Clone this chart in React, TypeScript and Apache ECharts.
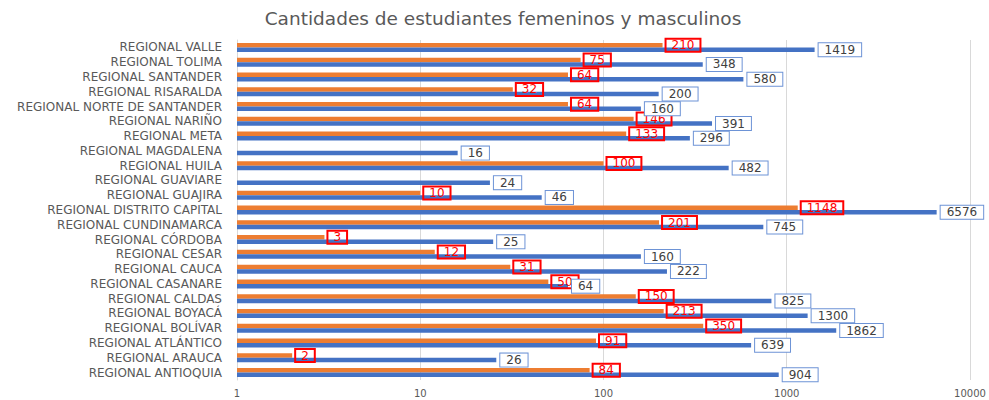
import React, { useEffect, useRef } from "react";
import * as echarts from "echarts";

const categories = [
  "REGIONAL ANTIOQUIA",
  "REGIONAL ARAUCA",
  "REGIONAL ATLÁNTICO",
  "REGIONAL BOLÍVAR",
  "REGIONAL BOYACÁ",
  "REGIONAL CALDAS",
  "REGIONAL CASANARE",
  "REGIONAL CAUCA",
  "REGIONAL CESAR",
  "REGIONAL CÓRDOBA",
  "REGIONAL CUNDINAMARCA",
  "REGIONAL DISTRITO CAPITAL",
  "REGIONAL GUAJIRA",
  "REGIONAL GUAVIARE",
  "REGIONAL HUILA",
  "REGIONAL MAGDALENA",
  "REGIONAL META",
  "REGIONAL NARIÑO",
  "REGIONAL NORTE DE SANTANDER",
  "REGIONAL RISARALDA",
  "REGIONAL SANTANDER",
  "REGIONAL TOLIMA",
  "REGIONAL VALLE",
];

const femeninos: (number | null)[] = [
  84, 2, 91, 350, 213, 150, 50, 31, 12, 3, 201, 1148, 10, null, 100, null, 133, 146, 64, 32, 64, 75, 210,
];

const masculinos: number[] = [
  904, 26, 639, 1862, 1300, 825, 64, 222, 160, 25, 745, 6576, 46, 24, 482, 16, 296, 391, 160, 200, 580, 348, 1419,
];

const xTicks = [1, 10, 100, 1000, 10000];

export default function App() {
  const ref = useRef<HTMLDivElement>(null);
  useEffect(() => {
    if (!ref.current) return;
    const chart = echarts.init(ref.current, null, { renderer: "svg" });
    chart.setOption({
      animation: false,
      title: {
        text: "Cantidades de estudiantes femeninos y masculinos",
        left: 498,
        textAlign: "center",
        top: 4,
        textStyle: {
          fontFamily: "DejaVu Sans",
          fontSize: 18.5,
          fontWeight: "normal",
          color: "#595959",
        },
      },
      grid: { left: 237, right: 19, top: 40, bottom: 20, containLabel: false },
      xAxis: {
        type: "log",
        logBase: 10,
        min: xTicks[0],
        max: xTicks[xTicks.length - 1],
        axisLine: { show: false },
        axisTick: { show: false },
        splitLine: { show: true, lineStyle: { color: "#d9d9d9", width: 1 } },
        axisLabel: {
          color: "#595959",
          fontFamily: "DejaVu Sans",
          fontSize: 10,
          margin: 8,
          formatter: (v: number) => String(Math.round(v)),
        },
      },
      yAxis: {
        type: "category",
        data: categories,
        axisLine: { show: true, lineStyle: { color: "#d9d9d9" } },
        axisTick: { show: false },
        axisLabel: {
          interval: 0,
          color: "#595959",
          fontFamily: "DejaVu Sans",
          fontSize: 12,
          margin: 15,
        },
      },
      series: [
        {
          name: "Femenino",
          type: "bar",
          data: femeninos,
          barWidth: 4.5,
          barGap: "0%",
          itemStyle: { color: "#ed7d31" },
          label: {
            show: true,
            position: "right",
            distance: 3,
            color: "#ff0000",
            fontFamily: "DejaVu Sans",
            fontSize: 12,
            borderColor: "#ff0000",
            borderWidth: 1,
            padding: [1, 6, 0, 6],
            backgroundColor: "transparent",
          },
        },
        {
          name: "Masculino",
          type: "bar",
          data: masculinos,
          barWidth: 4.5,
          barGap: "0%",
          itemStyle: { color: "#4472c4" },
          label: {
            show: true,
            position: "right",
            distance: 4,
            color: "#404040",
            fontFamily: "DejaVu Sans",
            fontSize: 12,
            borderColor: "#6d93d6",
            borderWidth: 1,
            padding: [1, 6, 0, 6],
            backgroundColor: "#ffffff",
          },
        },
      ],
    });
    return () => chart.dispose();
  }, []);
  return (
    <div
      ref={ref}
      style={{ position: "absolute", left: 0, top: 0, width: 989, height: 400 }}
    />
  );
}
